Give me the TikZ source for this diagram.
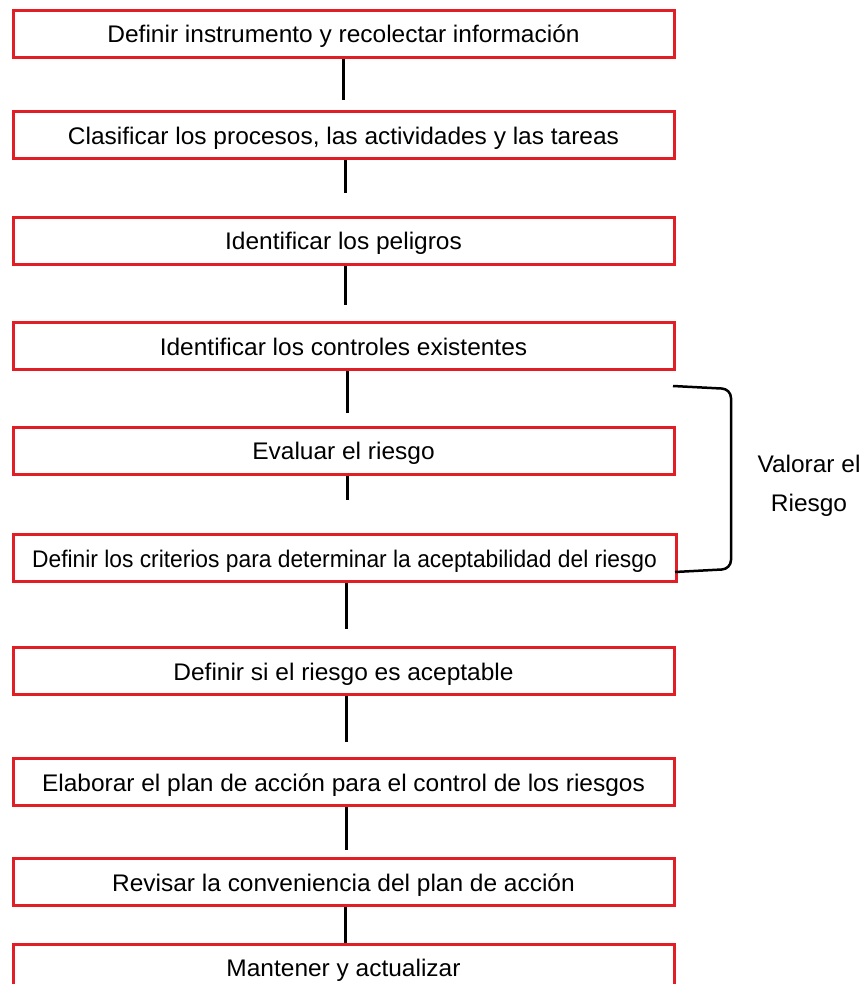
\documentclass[tikz,border=0pt]{standalone}
\usepackage{fontspec}
\setmainfont{Liberation Sans}[FakeStretch=1.02]
\newfontfamily\narrowfont{Liberation Sans}[FakeStretch=0.95]
\definecolor{boxred}{RGB}{225,30,38}
\begin{document}
\begin{tikzpicture}[x=1pt,y=-1pt,
  stepbox/.style={draw=boxred, line width=3pt, minimum width=661pt, minimum height=47pt, inner sep=0pt, text height=19pt, text depth=1pt, font=\fontsize{24}{28}\selectfont},
  link/.style={line width=3pt, black},
  brace/.style={line width=2.5pt, black, rounded corners=9pt}]
\useasboundingbox (0,0) rectangle (865,984);
\node[stepbox] (b1) at (343.5,34) {Definir instrumento y recolectar información};
\node[stepbox] (b2) at (343.5,135.5) {Clasificar los procesos, las actividades y las tareas};
\node[stepbox] (b3) at (343.5,241) {Identificar los peligros};
\node[stepbox] (b4) at (343.5,346) {Identificar los controles existentes};
\node[stepbox] (b5) at (343.5,450.5) {Evaluar el riesgo};
\node[stepbox, minimum width=663pt] (b6) at (344.5,558) {\narrowfont Definir los criterios para determinar la aceptabilidad del riesgo};
\node[stepbox] (b7) at (343.5,671) {Definir si el riesgo es aceptable};
\node[stepbox] (b8) at (343.5,782) {Elaborar el plan de acción para el control de los riesgos};
\node[stepbox] (b9) at (343.5,882) {Revisar la conveniencia del plan de acción};
\node[stepbox, text depth=3pt] (b10) at (343.5,968) {Mantener y actualizar};
\coordinate (e1) at (343,100);
\coordinate (e2) at (345,193);
\coordinate (e3) at (345,305);
\coordinate (e4) at (347,413);
\coordinate (e5) at (347,500);
\coordinate (e6) at (346,629);
\coordinate (e7) at (346,742);
\coordinate (e8) at (346,850);
\coordinate (e9) at (345,900);
\draw[link] (b1.south -| e1) -- (e1);
\draw[link] (b2.south -| e2) -- (e2);
\draw[link] (b3.south -| e3) -- (e3);
\draw[link] (b4.south -| e4) -- (e4);
\draw[link] (b5.south -| e5) -- (e5);
\draw[link] (b6.south -| e6) -- (e6);
\draw[link] (b7.south -| e7) -- (e7);
\draw[link] (b8.south -| e8) -- (e8);
\draw[link] (b9.south -| e9) -- (b10.north -| e9);
\coordinate (bt) at (673,386);
\coordinate (btr) at (731,389);
\coordinate (bbr) at (731,569);
\coordinate (bb) at (675,572);
\draw[brace] (bt) -- (btr) -- (bbr) -- (bb);
\node[font=\fontsize{24}{39}\selectfont, align=center] (lab) at (809,486) {Valorar el\\Riesgo};
\end{tikzpicture}
\end{document}
